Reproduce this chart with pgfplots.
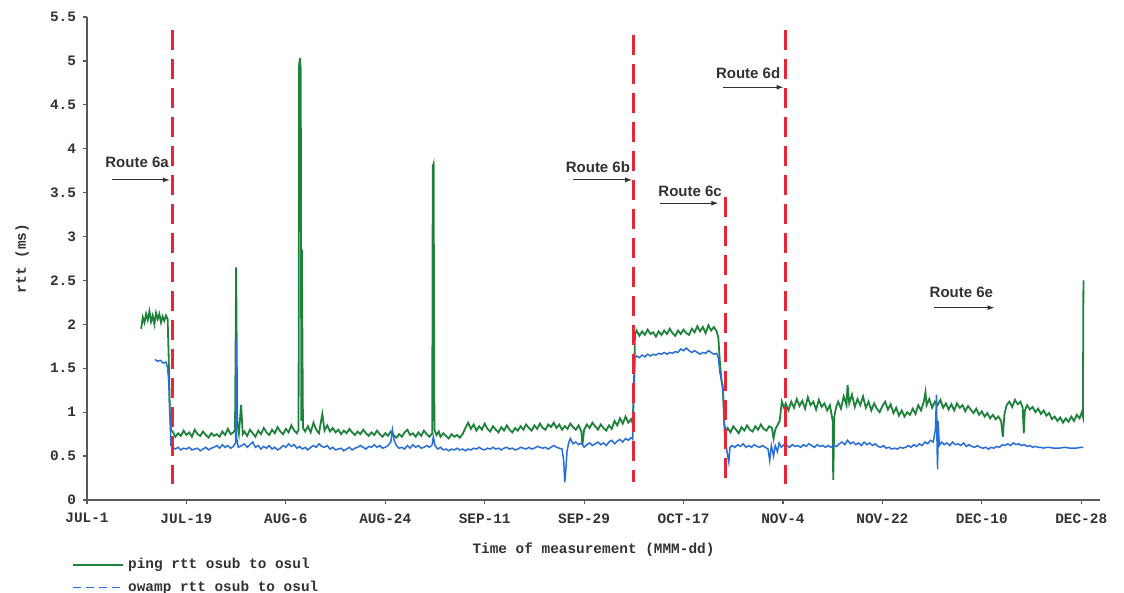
\documentclass[border=0pt]{standalone}
\usepackage{pgfplots}
\pgfplotsset{compat=1.18}
\usepackage{fontspec}
\setmainfont{Liberation Sans}
\setmonofont{Liberation Mono}
\usetikzlibrary{arrows.meta}
\definecolor{pinggreen}{RGB}{30,130,60}
\definecolor{owampblue}{RGB}{40,110,215}
\definecolor{routered}{RGB}{228,40,55}
\definecolor{axgray}{RGB}{90,90,90}
\definecolor{txtgray}{RGB}{50,50,50}
\newcommand{\mono}{\ttfamily\bfseries\fontsize{7.2}{8.5}\selectfont}
\newcommand{\rfont}{\bfseries\fontsize{7.5}{9}\selectfont}
\pgfplotsset{
 solidlegend/.style={legend image code/.code={\draw[##1] (0pt,0pt) -- (25pt,0pt);}},
 dashedlegend/.style={legend image code/.code={\draw[##1,dash pattern=on 4pt off 2.5pt] (0pt,0pt) -- (25pt,0pt);}},
}
\begin{document}
\begin{tikzpicture}
\useasboundingbox (-43.5pt,-46.5pt) rectangle (518.5pt,250pt);
\begin{axis}[
 at={(0pt,0pt)}, anchor=south west,
 scale only axis, width=506.5pt, height=241.5pt,
 xmin=0, xmax=183.4, ymin=0, ymax=5.5,
 axis lines=left, axis line style={-, axgray, line width=0.7pt},
 xtick={0,18,36,54,72,90,108,126,144,162,180},
 xticklabels={JUL-1,JUL-19,AUG-6,AUG-24,SEP-11,SEP-29,OCT-17,NOV-4,NOV-22,DEC-10,DEC-28},
 ytick={0,0.5,1,1.5,2,2.5,3,3.5,4,4.5,5,5.5},
 yticklabels={0,0.5,1,1.5,2,2.5,3,3.5,4,4.5,5,5.5},
 /pgf/number format/assume math mode=true,
 tick label style={font=\mono, text=txtgray},
 xticklabel style={yshift=-1.2pt},
 tick align=outside, major tick length=2pt,
 tick style={axgray, line width=0.6pt},
 xlabel={Time of measurement (MMM-dd)},
 ylabel={rtt (ms)},
 label style={font=\mono, text=txtgray},
 xlabel style={at={(axis description cs:0.5,-0.1035)}, anchor=center},
 ylabel style={at={(axis description cs:-0.064,0.5)}, anchor=center},
 legend cell align=left,
 legend style={at={(axis description cs:-0.0148,-0.111)}, anchor=north west,
   draw=none, fill=none, inner sep=0pt, font=\mono, text=txtgray,
   row sep=0.6pt},
]
% ping rtt (green)
\addplot[pinggreen, line width=0.9pt, solidlegend] coordinates {
(9.8,1.95)(10.1,2.08)(10.4,2.02)(10.7,2.12)(11.0,2.05)(11.3,2.15)(11.6,2.03)(11.9,2.1)(12.2,2.0)(12.5,2.13)(12.8,2.06)(13.1,2.12)(13.4,2.02)(13.7,2.09)(14.0,2.04)(14.3,2.1)(14.6,2.06)(14.8,1.6)(14.9,1.3)(15.0,1.0)(15.2,0.8)
(15.5,0.78)(16,0.72)(16.5,0.76)(17,0.73)(17.5,0.79)(18,0.74)(18.5,0.77)(19,0.72)(19.5,0.8)(20,0.75)(20.5,0.73)(21,0.78)(21.5,0.74)(22,0.71)(22.5,0.76)(23,0.73)(23.5,0.75)(24,0.72)(24.5,0.78)(25,0.74)(25.5,0.81)(26,0.75)(26.5,0.77)(26.8,0.8)(27.0,2.65)(27.2,0.9)(27.5,0.76)(27.9,1.08)(28.2,0.75)(28.5,0.78)(29,0.73)(29.5,0.8)(30,0.76)(30.5,0.72)(31,0.79)(31.5,0.75)(32,0.82)(32.5,0.77)(33,0.74)(33.5,0.8)(34,0.76)(34.5,0.83)(35,0.78)(35.5,0.75)(36,0.81)(36.5,0.77)(37,0.85)(37.5,0.79)(38,0.76)(38.3,0.8)(38.4,4.95)(38.55,5.03)(38.7,4.9)(38.8,0.9)(38.9,2.85)(39.1,0.82)(39.5,0.78)(40,0.84)(40.5,0.77)(41,0.88)(41.5,0.8)(42,0.76)(42.6,0.98)(43,0.79)(43.5,0.85)(44,0.78)(44.5,0.82)(45,0.77)(45.5,0.8)(46,0.75)(46.5,0.79)(47,0.76)(47.5,0.81)(48,0.77)(48.5,0.74)(49,0.78)(49.5,0.75)(50,0.8)(50.5,0.76)(51,0.73)(51.5,0.77)(52,0.74)(52.5,0.79)(53,0.75)(53.5,0.72)(54,0.76)(54.5,0.73)(55,0.78)(55.5,0.74)(56,0.71)(56.5,0.75)(57,0.72)(57.5,0.77)(58,0.8)(58.5,0.74)(59,0.76)(59.5,0.72)(60,0.77)(60.5,0.73)(61,0.79)(61.5,0.75)(62,0.72)(62.5,0.76)(62.6,3.8)(62.75,3.83)(62.9,0.8)(63.3,0.74)(63.7,0.78)(64,0.72)(64.5,0.76)(65,0.73)(65.5,0.7)(66,0.75)(66.5,0.72)(67,0.74)(67.5,0.71)(68,0.75)
(68.5,0.82)(69,0.88)(69.5,0.81)(70,0.86)(70.5,0.79)(71,0.84)(71.5,0.8)(72,0.87)(72.5,0.81)(73,0.78)(73.5,0.84)(74,0.8)(74.5,0.77)(75,0.83)(75.5,0.79)(76,0.85)(76.5,0.8)(77,0.77)(77.5,0.82)(78,0.79)(78.5,0.84)(79,0.8)(79.5,0.86)(80,0.82)(80.5,0.79)(81,0.85)(81.5,0.81)(82,0.87)(82.5,0.82)(83,0.8)(83.5,0.86)(84,0.83)(84.5,0.88)(85,0.82)(85.5,0.86)(86,0.8)(86.5,0.84)(87,0.81)(87.5,0.87)(88,0.83)(88.5,0.8)(89,0.85)(89.5,0.78)(89.7,0.63)(90,0.8)(90.5,0.86)(91,0.82)(91.5,0.88)(92,0.84)(92.5,0.8)(93,0.86)(93.5,0.82)(94,0.79)(94.5,0.85)(95,0.81)(95.5,0.9)(96,0.85)(96.5,0.93)(97,0.87)(97.5,0.95)(98,0.88)(98.5,0.92)(98.8,0.87)
(99.1,1.5)(99.2,1.88)(99.5,1.93)(100,1.87)(100.5,1.92)(101,1.88)(101.5,1.94)(102,1.89)(102.5,1.91)(103,1.86)(103.5,1.92)(104,1.88)(104.5,1.93)(105,1.89)(105.5,1.95)(106,1.9)(106.5,1.87)(107,1.93)(107.5,1.89)(108,1.94)(108.5,1.9)(109,1.88)(109.5,1.95)(110,1.91)(110.5,1.98)(111,1.92)(111.5,1.97)(112,1.9)(112.5,1.99)(113,1.93)(113.5,1.97)(114,1.92)(114.3,1.85)(114.6,1.55)(114.9,1.35)(115.1,1.3)(115.4,0.85)(115.7,0.78)
(116,0.82)(116.5,0.77)(117,0.84)(117.5,0.8)(118,0.76)(118.5,0.83)(119,0.79)(119.5,0.85)(120,0.8)(120.5,0.78)(121,0.84)(121.5,0.8)(122,0.86)(122.5,0.81)(123,0.79)(123.5,0.84)(124,0.82)(124.3,0.7)(124.6,0.8)(125,0.85)(125.4,0.9)(125.8,1.12)(126.2,1.05)
(126.5,1.1)(127,1.02)(127.5,1.12)(128,1.05)(128.5,1.15)(129,1.07)(129.5,1.13)(130,1.04)(130.5,1.17)(131,1.08)(131.5,1.12)(132,1.03)(132.5,1.14)(133,1.06)(133.5,1.1)(134,1.02)(134.5,1.08)(135,0.9)(135.1,0.23)(135.3,0.95)(135.6,1.05)(136,1.12)(136.5,1.04)(137,1.18)(137.5,1.08)(137.7,1.31)(138,1.1)(138.5,1.2)(139,1.06)(139.5,1.15)(140,1.08)(140.5,1.18)(141,1.05)(141.5,1.12)(142,1.02)(142.5,1.1)(143,1.04)(143.5,1.0)(144,1.07)(144.5,1.12)(145,1.03)(145.5,1.09)(146,0.99)(146.5,1.05)(147,0.96)(147.5,1.02)(148,0.95)(148.5,1.0)(149,0.97)(149.5,1.04)(150,0.98)(150.5,1.08)(151,1.02)(151.5,1.12)(151.8,1.23)(152,1.08)(152.5,1.15)(153,1.05)(153.5,1.12)(154,1.08)(154.5,1.14)(155,1.05)(155.5,1.1)(156,1.03)(156.5,1.09)(157,1.02)(157.5,1.1)(158,1.05)(158.5,1.08)(159,1.01)(159.5,1.07)(160,1.03)(160.5,0.99)(161,1.04)(161.5,0.97)(162,1.01)(162.5,0.95)(163,0.99)(163.5,0.93)(164,0.97)(164.5,0.92)(165,0.95)(165.5,0.9)(165.8,0.72)(166.1,0.98)(166.5,1.08)(167,1.12)(167.5,1.06)(168,1.14)(168.5,1.09)(169,1.12)(169.4,1.05)(169.6,0.76)(169.8,1.02)(170.2,1.08)(170.7,1.03)(171.2,1.06)(171.7,1.0)(172.2,1.04)(172.7,0.98)(173.2,1.02)(173.7,0.96)(174.2,0.99)(174.7,0.92)(175.2,0.95)(175.7,0.9)(176.2,0.94)(176.7,0.88)(177.2,0.93)(177.7,0.89)(178.2,0.95)(178.7,0.9)(179.2,0.97)(179.7,0.93)(180.1,1.0)(180.3,0.95)(180.4,2.5)
};
\addlegendentry{ping rtt osub to osul}
% owamp rtt (blue)
\addplot[owampblue, line width=0.75pt, dashedlegend] coordinates {
(12.3,1.6)(12.8,1.58)(13.3,1.59)(13.8,1.56)(14.3,1.57)(14.6,1.5)(14.8,1.35)(15.0,1.0)(15.2,0.62)
(15.5,0.6)(16,0.58)(16.5,0.6)(17,0.57)(17.5,0.59)(18,0.58)(18.5,0.6)(19,0.57)(19.5,0.58)(20,0.59)(20.5,0.56)(21,0.58)(21.5,0.6)(22,0.57)(22.5,0.59)(23,0.6)(23.5,0.62)(24,0.59)(24.5,0.63)(25,0.6)(25.5,0.62)(26,0.59)(26.5,0.61)(26.9,0.65)(27.0,1.85)(27.1,0.7)(27.4,0.6)(28,0.62)(28.5,0.64)(29,0.6)(29.5,0.63)(30,0.66)(30.5,0.6)(31,0.62)(31.5,0.58)(32,0.61)(32.5,0.59)(33,0.62)(33.5,0.58)(34,0.6)(34.5,0.57)(35,0.59)(35.5,0.62)(36,0.6)(36.5,0.64)(37,0.61)(37.5,0.63)(38,0.59)(38.5,0.61)(39,0.58)(39.5,0.6)(40,0.57)(40.5,0.6)(41,0.62)(41.5,0.6)(42,0.64)(42.5,0.61)(43,0.6)(43.5,0.62)(44,0.58)(44.5,0.6)(45,0.57)(45.5,0.58)(46,0.59)(46.5,0.56)(47,0.58)(47.5,0.6)(48,0.57)(48.5,0.59)(49,0.6)(49.5,0.62)(50,0.6)(50.5,0.58)(51,0.61)(51.5,0.6)(52,0.63)(52.5,0.6)(53,0.62)(53.5,0.59)(54,0.6)(54.5,0.62)(55,0.66)(55.3,0.8)(55.6,0.68)(56,0.62)(56.5,0.59)(57,0.6)(57.5,0.58)(58,0.62)(58.5,0.59)(59,0.63)(59.5,0.6)(60,0.62)(60.5,0.59)(61,0.6)(61.5,0.62)(62,0.6)(62.5,0.63)(62.7,0.72)(63,0.62)(63.5,0.58)(64,0.6)(64.5,0.57)(65,0.58)(65.5,0.56)(66,0.58)(66.5,0.57)(67,0.59)(67.5,0.57)(68,0.58)(68.5,0.56)(69,0.58)(69.5,0.57)(70,0.59)(70.5,0.58)(71,0.6)(71.5,0.58)(72,0.57)(72.5,0.59)(73,0.58)(73.5,0.6)(74,0.58)(74.5,0.59)(75,0.57)(75.5,0.59)(76,0.6)(76.5,0.58)(77,0.59)(77.5,0.57)(78,0.58)(78.5,0.6)(79,0.59)(79.5,0.58)(80,0.6)(80.5,0.58)(81,0.59)(81.5,0.61)(82,0.6)(82.5,0.59)(83,0.6)(83.5,0.58)(84,0.6)(84.5,0.62)(85,0.6)(85.5,0.59)(86,0.58)(86.3,0.45)(86.5,0.2)(86.7,0.35)(86.9,0.55)(87.2,0.65)(87.5,0.7)(88,0.64)(88.5,0.66)(89,0.63)(89.5,0.65)(90,0.6)(90.5,0.63)(91,0.65)(91.5,0.62)(92,0.64)(92.5,0.66)(93,0.63)(93.5,0.65)(94,0.62)(94.5,0.66)(95,0.68)(95.5,0.64)(96,0.67)(96.5,0.69)(97,0.66)(97.5,0.7)(98,0.68)(98.5,0.71)(98.8,0.69)(99.0,1.2)(99.2,1.62)
(99.5,1.64)(100,1.62)(100.5,1.65)(101,1.63)(101.5,1.66)(102,1.64)(102.5,1.66)(103,1.65)(103.5,1.67)(104,1.66)(104.5,1.68)(105,1.66)(105.5,1.68)(106,1.67)(106.5,1.69)(107,1.68)(107.5,1.72)(108,1.7)(108.5,1.73)(109,1.7)(109.5,1.68)(110,1.7)(110.5,1.68)(111,1.66)(111.5,1.68)(112,1.67)(112.5,1.7)(113,1.68)(113.5,1.66)(114,1.67)(114.3,1.62)(114.6,1.45)(114.9,1.35)(115.2,1.2)(115.5,0.62)(115.8,0.58)(116,0.5)(116.2,0.43)(116.4,0.6)
(116.8,0.62)(117.3,0.6)(117.8,0.63)(118.3,0.61)(118.8,0.64)(119.3,0.6)(119.8,0.62)(120.3,0.6)(120.8,0.63)(121.3,0.61)(121.8,0.6)(122.3,0.62)(122.8,0.6)(123.3,0.58)(123.6,0.45)(123.9,0.62)(124.3,0.5)(124.6,0.62)(125,0.55)(125.3,0.65)(125.7,0.6)(126.2,0.63)
(126.7,0.62)(127.2,0.6)(127.7,0.63)(128.2,0.61)(128.7,0.62)(129.2,0.6)(129.7,0.63)(130.2,0.61)(130.7,0.64)(131.2,0.62)(131.7,0.6)(132.2,0.63)(132.7,0.61)(133.2,0.62)(133.7,0.6)(134.2,0.62)(134.7,0.6)(135.2,0.62)(135.7,0.61)(136.2,0.64)(136.7,0.66)(137.2,0.63)(137.7,0.68)(138.2,0.64)(138.7,0.66)(139.2,0.63)(139.7,0.65)(140.2,0.62)(140.7,0.66)(141.2,0.63)(141.7,0.65)(142.2,0.62)(142.7,0.64)(143.2,0.61)(143.7,0.6)(144.2,0.62)(144.7,0.59)(145.2,0.6)(145.7,0.58)(146.2,0.59)(146.7,0.58)(147.2,0.6)(147.7,0.59)(148.2,0.6)(148.7,0.62)(149.2,0.6)(149.7,0.63)(150.2,0.61)(150.7,0.64)(151.2,0.62)(151.7,0.66)(152.2,0.64)(152.7,0.68)(153.2,0.66)(153.6,0.8)(153.8,1.2)(153.9,0.6)(154.0,0.35)(154.1,0.9)(154.3,0.62)(154.7,0.66)(155.2,0.63)(155.7,0.65)(156.2,0.62)(156.7,0.66)(157.2,0.63)(157.7,0.64)(158.2,0.62)(158.7,0.65)(159.2,0.61)(159.7,0.63)(160.2,0.61)(160.7,0.6)(161.2,0.62)(161.7,0.6)(162.2,0.59)(162.7,0.6)(163.2,0.58)(163.7,0.6)(164.2,0.59)(164.7,0.61)(165.2,0.6)(165.7,0.63)(166.2,0.62)(166.7,0.64)(167.2,0.62)(167.7,0.65)(168.2,0.63)(168.7,0.64)(169.2,0.62)(169.7,0.63)(170.2,0.61)(170.7,0.62)(171.2,0.6)(171.7,0.61)(172.2,0.6)(172.7,0.6)(173.2,0.59)(173.7,0.6)(174.2,0.6)(175,0.59)(176,0.59)(177,0.6)(178,0.59)(179,0.59)(180,0.6)(180.4,0.6)
};
\addlegendentry{owamp rtt osub to osul}
% route change lines
\addplot[routered, line width=1.6pt, dash pattern=on 10pt off 4.5pt, forget plot] coordinates {(15.5,5.35)(15.5,0.18)};
\addplot[routered, line width=1.6pt, dash pattern=on 10pt off 4.5pt, forget plot] coordinates {(99.0,5.3)(99.0,0.2)};
\addplot[routered, line width=1.6pt, dash pattern=on 10pt off 4.5pt, forget plot] coordinates {(115.6,3.45)(115.6,0.18)};
\addplot[routered, line width=1.6pt, dash pattern=on 10pt off 4.5pt, forget plot] coordinates {(126.4,5.35)(126.4,0.18)};
% annotations
\node[font=\rfont, text=txtgray] at (axis cs:9.06,3.84) {Route 6a};
\draw[-{Latex[length=3.5pt,width=2.5pt]}, line width=0.5pt, txtgray] (axis cs:4.5,3.645) -- (axis cs:15.0,3.645);
\node[font=\rfont, text=txtgray] at (axis cs:92.5,3.79) {Route 6b};
\draw[-{Latex[length=3.5pt,width=2.5pt]}, line width=0.5pt, txtgray] (axis cs:88.0,3.645) -- (axis cs:98.7,3.645);
\node[font=\rfont, text=txtgray] at (axis cs:109.2,3.51) {Route 6c};
\draw[-{Latex[length=3.5pt,width=2.5pt]}, line width=0.5pt, txtgray] (axis cs:103.8,3.38) -- (axis cs:114.3,3.38);
\node[font=\rfont, text=txtgray] at (axis cs:119.7,4.86) {Route 6d};
\draw[-{Latex[length=3.5pt,width=2.5pt]}, line width=0.5pt, txtgray] (axis cs:115.2,4.70) -- (axis cs:126.1,4.70);
\node[font=\rfont, text=txtgray] at (axis cs:158.3,2.36) {Route 6e};
\draw[-{Latex[length=3.5pt,width=2.5pt]}, line width=0.5pt, txtgray] (axis cs:153.3,2.19) -- (axis cs:164.3,2.19);
\end{axis}
\end{tikzpicture}
\end{document}
